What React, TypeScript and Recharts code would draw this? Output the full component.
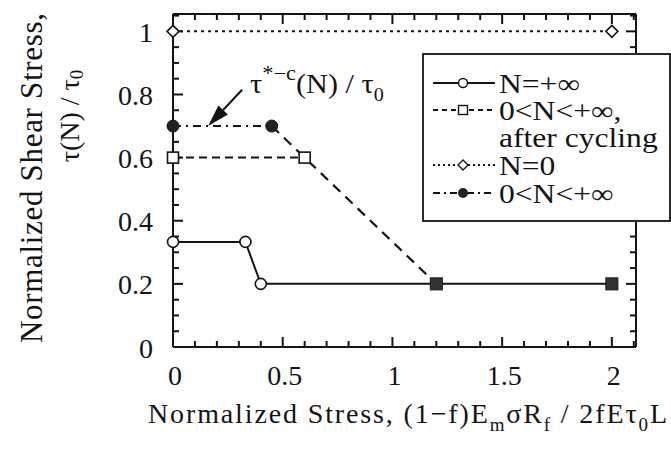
import React from 'react';
import { ComposedChart, Line, Scatter, XAxis, YAxis, ReferenceLine, Legend } from 'recharts';

const FONT = '"Liberation Serif", "Times New Roman", serif';
const INK = '#141414';

// N = +inf (solid, open circles)
const infX = [0, 0.33, 0.4, 1.2, 2];
const infY = [0.333, 0.333, 0.2, 0.2, 0.2];
// 0<N<+inf after cycling (dashed, open squares)
const cycX = [0, 0.6];
const cycY = [0.6, 0.6];
// dashed drop from the filled circle down to the plateau
const dropX = [0.45, 1.2];
const dropY = [0.7, 0.2];
// filled squares on the final plateau
const endX = [1.2, 2];
const endY = [0.2, 0.2];
// N = 0 (dotted, diamonds)
const n0X = [0, 2];
const n0Y = [1, 1];
// 0<N<+inf (dash-dot, filled circles)
const midX = [0, 0.45];
const midY = [0.7, 0.7];

const xMajor = [0, 0.5, 1, 1.5, 2];
const xMinor = [0.1, 0.2, 0.3, 0.4, 0.6, 0.7, 0.8, 0.9, 1.1, 1.2, 1.3, 1.4, 1.6, 1.7, 1.8, 1.9, 2.1];
const yMajor = [0, 0.2, 0.4, 0.6, 0.8, 1];
const yMinor = [0.05, 0.1, 0.15, 0.25, 0.3, 0.35, 0.45, 0.5, 0.55, 0.65, 0.7, 0.75, 0.85, 0.9, 0.95, 1.05];
const xLabels = ['0', '0.5', '1', '1.5', '2'];
const yLabels = ['0', '0.2', '0.4', '0.6', '0.8', '1'];

const legendNames = ['N=+\u221E', '0<N<+\u221E,', 'after cycling', 'N=0', '0<N<+\u221E'];

const X_MAX = 2.11;
const Y_MAX = 1.055;

const zip = (xs: number[], ys: number[]) => xs.map((x, i) => ({ x, y: ys[i] }));

const BottomLabel = (p: any) => (
  <text x={p.x + 2} y={p.y + 28} textAnchor="middle" dominantBaseline="central" fontFamily={FONT} fontSize={28} fill={INK}>
    {xLabels[p.index]}
  </text>
);

const LeftLabel = (p: any) => (
  <text x={p.x - 20} y={p.y + 1} textAnchor="end" dominantBaseline="central" fontFamily={FONT} fontSize={28} fill={INK}>
    {yLabels[p.index]}
  </text>
);

// inward tick marks on both opposite frame sides, drawn through reference segments
const makeXTick = (len: number) => (p: any) => {
  const x = p.x1;
  const top = Math.min(p.y1, p.y2);
  const bot = Math.max(p.y1, p.y2);
  return (
    <g>
      <line x1={x} x2={x} y1={bot} y2={bot - len} stroke={INK} strokeWidth={2} />
      <line x1={x} x2={x} y1={top} y2={top + len} stroke={INK} strokeWidth={2} />
    </g>
  );
};
const makeYTick = (len: number) => (p: any) => {
  const y = p.y1;
  const left = Math.min(p.x1, p.x2);
  const right = Math.max(p.x1, p.x2);
  return (
    <g>
      <line x1={left} x2={left + len} y1={y} y2={y} stroke={INK} strokeWidth={2} />
      <line x1={right} x2={right - len} y1={y} y2={y} stroke={INK} strokeWidth={2} />
    </g>
  );
};
const XMajorTick = makeXTick(10);
const XMinorTick = makeXTick(6);
const YMajorTick = makeYTick(10);
const YMinorTick = makeYTick(6);

const OpenCircle = (p: any) => (
  <circle key={`c${p.index}`} cx={p.cx} cy={p.cy} r={5.5} fill="#fff" stroke={INK} strokeWidth={1.6} />
);
const OpenSquare = (p: any) => (
  <rect key={`s${p.index}`} x={p.cx - 5.5} y={p.cy - 5.5} width={11} height={11} fill="#fff" stroke={INK} strokeWidth={1.6} />
);
const FilledSquare = (p: any) => (
  <rect x={p.cx - 6} y={p.cy - 6} width={12} height={12} fill="#333" stroke={INK} strokeWidth={1} />
);
const Diamond = (p: any) => (
  <path key={`d${p.index}`} d={`M${p.cx},${p.cy - 6} L${p.cx + 6},${p.cy} L${p.cx},${p.cy + 6} L${p.cx - 6},${p.cy} Z`} fill="#fff" stroke={INK} strokeWidth={1.6} />
);
const FilledCircle = (p: any) => (
  <circle key={`f${p.index}`} cx={p.cx} cy={p.cy} r={6} fill="#222" stroke={INK} strokeWidth={1} />
);

const arrowFrom = { x: 0.315, y: 0.815 };
const arrowTo = { x: 0.16, y: 0.7 };

const ArrowShape = (p: any) => {
  const { x1, y1, x2, y2 } = p;
  const dx = x2 - x1;
  const dy = y2 - y1;
  const len = Math.sqrt(dx * dx + dy * dy);
  const ux = dx / len;
  const uy = dy / len;
  const hl = 22;
  const hw = 6.5;
  const bx = x2 - ux * hl;
  const by = y2 - uy * hl;
  return (
    <g>
      <line x1={x1} y1={y1} x2={bx} y2={by} stroke={INK} strokeWidth={2} />
      <path d={`M${x2},${y2} L${bx - uy * hw},${by + ux * hw} L${bx + uy * hw},${by - ux * hw} Z`} fill={INK} />
      <text x={0} y={0} transform={`translate(${x1 + 8} ${y1 + 3}) scale(1.12 1)`} fontFamily={FONT} fontSize={27} fill={INK}>
        {'\u03C4'}
        <tspan dy={-13} fontSize={20}>{'*\u2212c'}</tspan>
        <tspan dy={13} fontSize={27}>{'(N)\u00A0/\u00A0\u03C4'}</tspan>
        <tspan dy={8} fontSize={18}>0</tspan>
      </text>
    </g>
  );
};

const SampleLine = ({ y, dash, marker }: { y: number; dash?: string; marker: string }) => {
  const cx = 41;
  let m: any = null;
  if (marker === 'circle') m = <circle cx={cx} cy={y} r={4.5} fill="#fff" stroke={INK} strokeWidth={1.4} />;
  if (marker === 'square') m = <rect x={cx - 4.5} y={y - 4.5} width={9} height={9} fill="#fff" stroke={INK} strokeWidth={1.4} />;
  if (marker === 'diamond') m = <path d={`M${cx},${y - 5} L${cx + 5},${y} L${cx},${y + 5} L${cx - 5},${y} Z`} fill="#fff" stroke={INK} strokeWidth={1.4} />;
  if (marker === 'fcircle') m = <circle cx={cx} cy={y} r={5} fill="#222" />;
  return (
    <g>
      <line x1={11} x2={73} y1={y} y2={y} stroke={INK} strokeWidth={1.8} strokeDasharray={dash} />
      {m}
    </g>
  );
};

const LegendBox = () => {
  const rows = [30, 57, 84, 112, 140];
  return (
    <div style={{ width: 249, height: 169, background: '#fff' }}>
      <svg width={249} height={169}>
        <rect x={1} y={1} width={247} height={167} fill="#fff" stroke={INK} strokeWidth={1.8} />
        <SampleLine y={rows[0]} marker="circle" />
        <SampleLine y={rows[1]} marker="square" dash="5 4" />
        <SampleLine y={rows[3]} marker="diamond" dash="2 3" />
        <SampleLine y={rows[4]} marker="fcircle" dash="7 4 2 4" />
        {legendNames.map((n, i) => (
          <text key={n + i} x={0} y={0} transform={`translate(77 ${rows[i] + 1}) scale(1.17 1)`} dominantBaseline="central" fontFamily={FONT} fontSize={27} fill={INK}>
            {n}
          </text>
        ))}
      </svg>
    </div>
  );
};

const XTitle = (p: any) => {
  const vb = p.viewBox || {};
  const y0 = (vb.y || 347) + 76;
  return (
    <text x={148} y={y0} fontFamily={FONT} fontSize={28} fill={INK} textLength={519} lengthAdjust="spacing">
      {'Normalized Stress, (1\u2212f)E'}
      <tspan dy={8} fontSize={19}>m</tspan>
      <tspan dy={-8}>{'\u03C3R'}</tspan>
      <tspan dy={8} fontSize={19}>f</tspan>
      <tspan dy={-8}>{'\u00A0/\u00A02fE\u03C4'}</tspan>
      <tspan dy={8} fontSize={19}>0</tspan>
      <tspan dy={-8}>L</tspan>
    </text>
  );
};

const YTitle = () => (
  <g>
    <text x={0} y={0} transform="translate(31 178) rotate(-90)" textAnchor="middle" dominantBaseline="central" fontFamily={FONT} fontSize={31} fill={INK} textLength={330} lengthAdjust="spacing">
      Normalized Shear Stress,
    </text>
    <text x={0} y={0} transform="translate(69 116) rotate(-90)" textAnchor="middle" dominantBaseline="central" fontFamily={FONT} fontSize={28} fill={INK}>
      {'\u03C4(N)\u00A0/\u00A0\u03C4'}
      <tspan dy={7} fontSize={19}>0</tspan>
    </text>
  </g>
);

const axisLineStyle = { stroke: INK, strokeWidth: 2 };

export default function App() {
  return (
    <div style={{ position: 'relative', width: 671, height: 450, background: '#fff' }}>
      <style>{'body{margin:0;background:#fff}'}</style>
      <ComposedChart width={671} height={450} margin={{ top: 0, right: 0, bottom: 0, left: 0 }}>
        <XAxis xAxisId="b" type="number" dataKey="x" domain={[0, X_MAX]} ticks={xMajor} interval={0} height={103}
          tickSize={0} tickMargin={0} tickLine={false} tick={<BottomLabel />} axisLine={axisLineStyle} label={<XTitle />} />
        <XAxis xAxisId="t" orientation="top" type="number" dataKey="x" domain={[0, X_MAX]} ticks={xMajor} interval={0} height={14}
          tickLine={false} tick={false} axisLine={axisLineStyle} />
        <YAxis yAxisId="l" type="number" domain={[0, Y_MAX]} ticks={yMajor} interval={0} width={173}
          tickSize={0} tickMargin={0} tickLine={false} tick={<LeftLabel />} axisLine={axisLineStyle} label={<YTitle />} />
        <YAxis yAxisId="r" orientation="right" type="number" domain={[0, Y_MAX]} ticks={yMajor} interval={0} width={35}
          tickLine={false} tick={false} axisLine={axisLineStyle} />
        {xMajor.map((v) => (
          <ReferenceLine key={`xM${v}`} xAxisId="b" yAxisId="l" ifOverflow="visible" segment={[{ x: v, y: 0 }, { x: v, y: Y_MAX }]} shape={XMajorTick} />
        ))}
        {xMinor.map((v) => (
          <ReferenceLine key={`xm${v}`} xAxisId="b" yAxisId="l" ifOverflow="visible" segment={[{ x: v, y: 0 }, { x: v, y: Y_MAX }]} shape={XMinorTick} />
        ))}
        {yMajor.map((v) => (
          <ReferenceLine key={`yM${v}`} xAxisId="b" yAxisId="l" ifOverflow="visible" segment={[{ x: 0, y: v }, { x: X_MAX, y: v }]} shape={YMajorTick} />
        ))}
        {yMinor.map((v) => (
          <ReferenceLine key={`ym${v}`} xAxisId="b" yAxisId="l" ifOverflow="visible" segment={[{ x: 0, y: v }, { x: X_MAX, y: v }]} shape={YMinorTick} />
        ))}
        <Legend layout="horizontal" verticalAlign="middle" align="center" wrapperStyle={{ position: 'absolute', left: 422, top: 53, width: 249, height: 169 }} content={<LegendBox />} />
        <Line xAxisId="b" yAxisId="l" data={zip(n0X, n0Y)} dataKey="y" stroke={INK} strokeWidth={2} strokeDasharray="3 4" dot={Diamond} isAnimationActive={false} name="N=0" />
        <Line xAxisId="b" yAxisId="l" data={zip(midX, midY)} dataKey="y" stroke={INK} strokeWidth={2} strokeDasharray="8 5 2 5" dot={false} isAnimationActive={false} name="0<N<+inf" />
        <Line xAxisId="b" yAxisId="l" data={zip(dropX, dropY)} dataKey="y" stroke={INK} strokeWidth={2.2} strokeDasharray="10 7" dot={false} isAnimationActive={false} legendType="none" />
        <Line xAxisId="b" yAxisId="l" data={zip(cycX, cycY)} dataKey="y" stroke={INK} strokeWidth={2} strokeDasharray="8 5" dot={OpenSquare} isAnimationActive={false} name="after cycling" />
        <Line xAxisId="b" yAxisId="l" data={zip(infX, infY)} dataKey="y" stroke={INK} strokeWidth={2} dot={(p: any) => (p.index < 3 ? OpenCircle(p) : <g key={`e${p.index}`} />)} isAnimationActive={false} name="N=+inf" />
        <Line xAxisId="b" yAxisId="l" data={zip(midX, midY)} dataKey="y" stroke="none" dot={FilledCircle} isAnimationActive={false} legendType="none" />
        <Scatter xAxisId="b" yAxisId="l" data={zip(endX, endY)} dataKey="y" shape={FilledSquare} isAnimationActive={false} legendType="none" />
        <ReferenceLine xAxisId="b" yAxisId="l" segment={[arrowFrom, arrowTo]} ifOverflow="visible" shape={ArrowShape} />
      </ComposedChart>
    </div>
  );
}
